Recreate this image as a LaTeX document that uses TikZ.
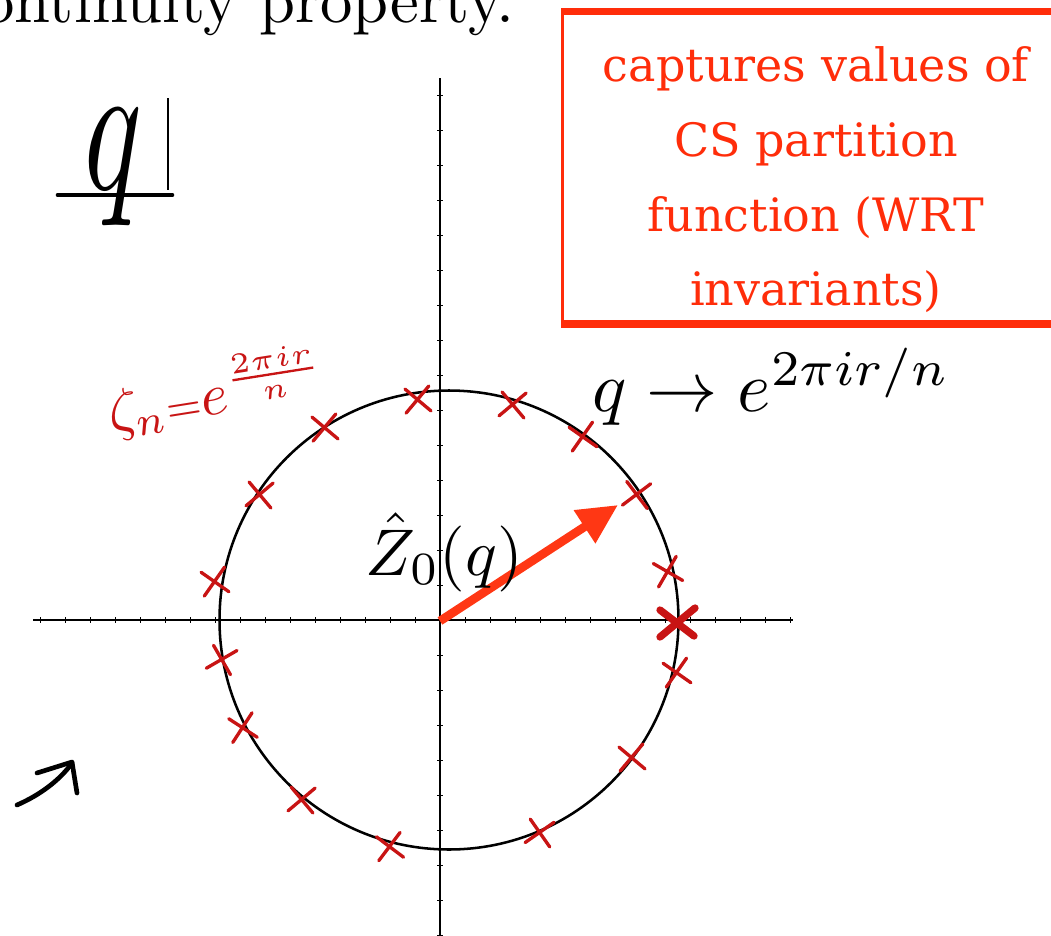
\documentclass[tikz,border=0pt]{standalone}
\usepackage{fontspec}
\newfontfamily\boxfont{DejaVu Serif}
\usetikzlibrary{arrows.meta}
\definecolor{rootred}{RGB}{200,20,20}
\definecolor{boxred}{RGB}{255,45,10}
\definecolor{arrowred}{RGB}{255,55,20}

\begin{document}
\begin{tikzpicture}[x=0.75pt, y=-0.75pt]
    \tikzstyle{axis} = [draw, line width=1.5pt]
    \tikzstyle{tick} = [draw, line width=0.5pt]
    \tikzstyle{root} = [draw=rootred, line width=2.5pt, line cap=round]
    \tikzstyle{hand} = [draw, line width=3.5pt, line cap=round, line join=round]
    \tikzstyle{big} = [inner sep=0pt]
    \tikzstyle{zarrow} = [draw=arrowred, line width=6.5pt, -{Triangle[length=30pt,width=28pt]}]
    \tikzstyle{csframe} = [draw=boxred, line width=2.5pt, minimum width=380pt, minimum height=232pt]
    \tikzstyle{cstext} = [text=boxred, align=center, inner sep=0pt,
        font=\boxfont\fontsize{34.5}{56}\selectfont]

    \useasboundingbox (0,0) rectangle (1051,936);
    \clip (0,0) rectangle (1051,936);

    % title line, cut at the top
    \node [big, anchor=base east, scale=4.85] (prop) at (516,22) {continuity property.};

    % q-plane label
    \node [big, xscale=9, yscale=14] (qlabel) at (113,167) {$q$};
    \draw [hand] (58,195) -- (172,195);
    \draw [line width=1.5pt] (168,98) -- (168,190);

    % axes
    \coordinate (xl) at (33,620);
    \coordinate (xr) at (793,620);
    \coordinate (yt) at (440,78);
    \coordinate (yb) at (440,940);
    \coordinate (O) at (440,621);
    \draw [axis] (xl) -- (xr);
    \draw [axis] (yt) -- (yb);
    \foreach \k in {-16,...,14}
        \draw [tick] ({440+25*\k},617) -- ++(0,6);
    \foreach \k in {-15,...,9}
        \draw [tick] (437,{620+35*\k}) -- ++(6,0);

    % unit circle
    \draw [line width=1.9pt] (449,620) circle [radius=229.5];

    % roots of unity
    \foreach \x/\y/\a in {418/400/5, 513/405/-5, 583/437/10, 637/495/-8, 668/572/15,
        677/673/10, 632/758/5, 540/833/-10, 390/847/8, 302/800/-5, 243/728/12,
        222/660/-15, 215/582/10, 260/495/-5, 325/428/5}
        \draw [root, shift={(\x,\y)}, rotate=\a] (-12,-12) -- (12,12) (-13,12) -- (12,-13);
    \draw [root, line width=5.5pt, shift={(677,623)}] (-17,-13) -- (17,13) (-17,14) -- (18,-15);

    \node [big, text=rootred, rotate=9, scale=4.4] (zeta) at (216,392) {$\zeta_n{\scriptstyle=}e^{\frac{2\pi i r}{n}}$};

    % Z hat vector
    \coordinate (tip) at (618,505);
    \draw [zarrow] (O) -- (tip);
    \node [big, anchor=base west, scale=4.95] (zhat) at (364,575) {$\hat{Z}_0(q)$};
    \node [big, anchor=base west, scale=5.35] (qmap) at (591,411) {$q \to e^{2\pi i r/n}$};

    % red box
    \node [csframe] (cs) at (816,168) {};
    \draw [boxred, line width=5pt] (cs.north west) -- (cs.north east);
    \draw [boxred, line width=6pt] (cs.south west) -- (cs.south east);
    \node [cstext] (cstext) at (816,180) {captures values of\\CS partition\\function (WRT\\invariants)};

    % hand arrow
    \draw [hand] (17,805) .. controls (40,795) and (60,780) .. (72,763);
    \draw [hand] (37,773) -- (72,762) -- (77,793);
\end{tikzpicture}
\end{document}
